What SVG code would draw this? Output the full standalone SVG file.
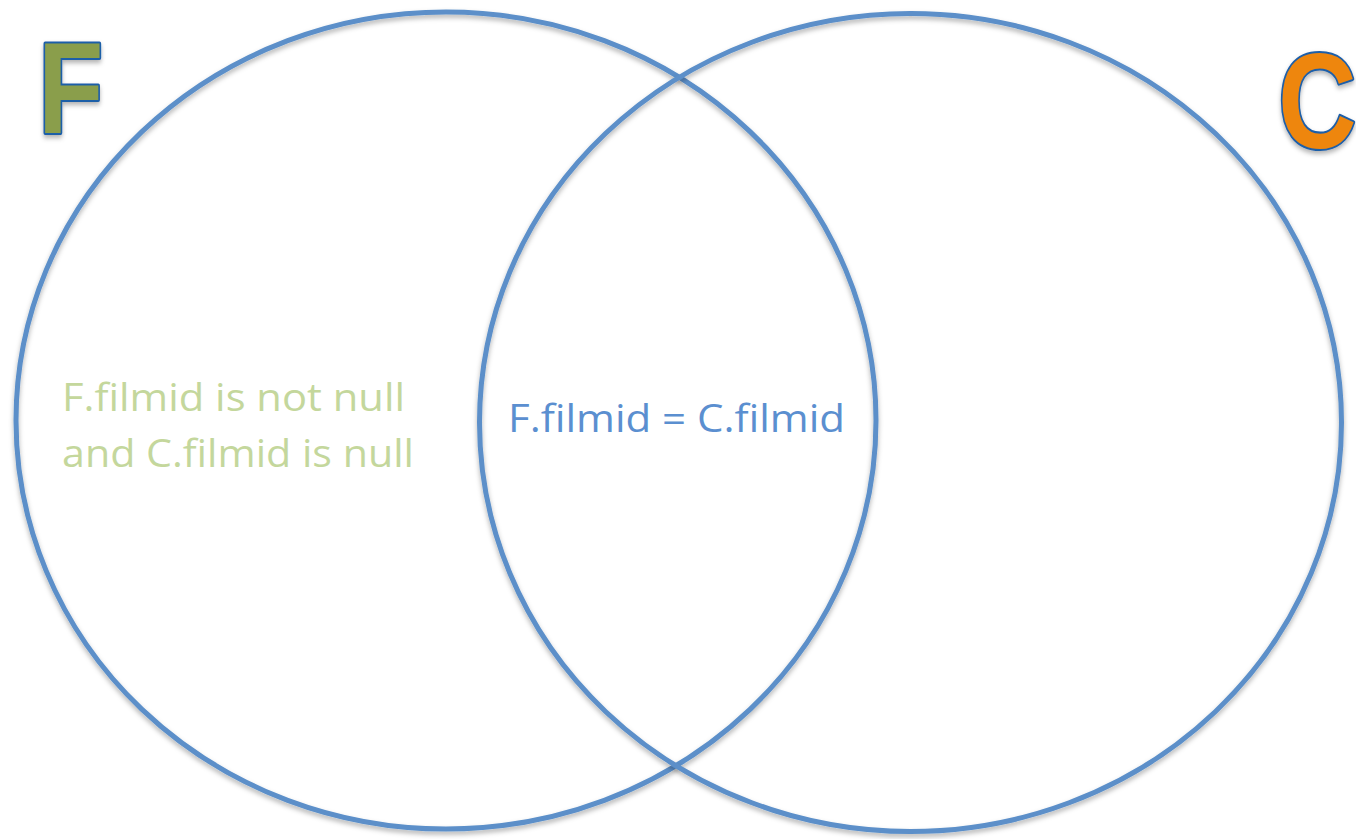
<svg xmlns="http://www.w3.org/2000/svg" width="1356" height="839" viewBox="0 0 1356 839">
<defs>
<filter id="sh" x="-10%" y="-10%" width="120%" height="120%">
<feDropShadow dx="0" dy="3" stdDeviation="2.5" flood-color="#000" flood-opacity="0.3"/>
</filter>
<style>
.ring{fill:none;stroke:#5b8fc9;stroke-width:5}
.lbl{font-family:"Open Sans","Liberation Sans",sans-serif;font-size:39px}
.big{font-family:"Liberation Sans",Arial,sans-serif;font-weight:bold;stroke:#1f5ea8;stroke-width:4;paint-order:stroke;stroke-linejoin:round}
</style>
</defs>
<rect width="1356" height="839" fill="#ffffff"/>
<g id="connectors"></g>
<g id="setF">
<ellipse class="ring" filter="url(#sh)" cx="446" cy="420.5" rx="430" ry="408.5"/>
</g>
<g id="setC">
<ellipse class="ring" filter="url(#sh)" cx="910.5" cy="422.5" rx="431" ry="409"/>
</g>
<g id="labelF">
<text class="big" transform="translate(38,133) scale(0.83,1)" font-size="129" fill="#8a9e4b" filter="url(#sh)">F</text>
</g>
<g id="labelC">
<text class="big" transform="translate(1278,148) scale(0.8,1)" font-size="136" fill="#ee860f" filter="url(#sh)">C</text>
</g>
<g id="leftOnly">
<text class="lbl" fill="#c4d79c" x="62" y="411" textLength="343" lengthAdjust="spacingAndGlyphs">F.filmid is not null</text>
<text class="lbl" fill="#c4d79c" x="62" y="467" textLength="352" lengthAdjust="spacingAndGlyphs">and C.filmid is null</text>
</g>
<g id="intersection">
<text class="lbl" fill="#5b8fd0" x="508" y="432" textLength="337" lengthAdjust="spacingAndGlyphs">F.filmid = C.filmid</text>
</g>
</svg>
